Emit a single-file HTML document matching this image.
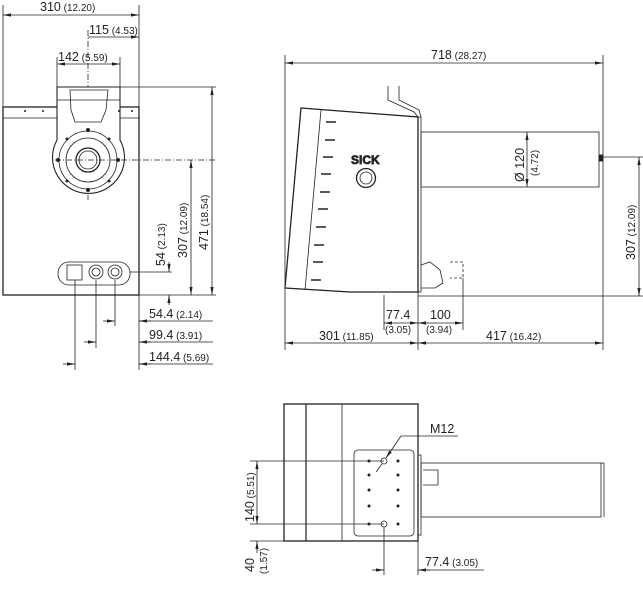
<!DOCTYPE html>
<html><head><meta charset="utf-8"><style>
html,body{margin:0;padding:0;background:#fff}
svg{display:block}
text{font-family:"Liberation Sans",sans-serif;fill:#222}
.n{font-size:12.5px}.p{font-size:10px}
</style></head><body>
<svg width="643" height="600" viewBox="0 0 643 600" xmlns="http://www.w3.org/2000/svg">
<defs>
<marker id="a" viewBox="0 0 10 10" refX="10" refY="5" markerWidth="10" markerHeight="10" orient="auto-start-reverse"><path d="M0,3 L10,5 L0,7z" fill="#222"/></marker>
</defs>
<g stroke="#222" fill="none" stroke-width="0.8">
<!-- FRONT VIEW -->
<line x1="3" y1="5" x2="3" y2="107"/><line x1="139" y1="5" x2="139" y2="370"/>
<line x1="3" y1="15" x2="139" y2="15" marker-start="url(#a)" marker-end="url(#a)"/>
<line x1="88" y1="30" x2="88" y2="200" stroke-dasharray="6,2,1,2"/>
<line x1="88" y1="37" x2="139" y2="37" marker-end="url(#a)"/>
<line x1="57" y1="57" x2="57" y2="87"/><line x1="120" y1="57" x2="120" y2="87"/>
<line x1="57" y1="64" x2="120" y2="64" marker-start="url(#a)" marker-end="url(#a)"/>
<rect x="3" y="107" width="136" height="188" stroke-width="1.3"/>
<line x1="3" y1="118" x2="139" y2="118"/>
<path d="M57,87 L120,87 L120,140 A36,36 0 1 1 57,140 Z" fill="#fff" stroke-width="1.1"/>
<path d="M70,90 L108,90 L106,110 L101,122 L75,122 L71,110 Z"/>
<line x1="57" y1="100" x2="120" y2="100"/>
<circle cx="88" cy="160" r="29"/><circle cx="88" cy="160" r="22"/><circle cx="88" cy="160" r="12" stroke-width="1.3"/><circle cx="88" cy="160" r="9"/>
<line x1="55" y1="160" x2="215" y2="160" stroke-dasharray="6,2,1,2"/>
<line x1="120" y1="87" x2="216" y2="87"/>
<line x1="212" y1="87" x2="212" y2="295" marker-start="url(#a)" marker-end="url(#a)"/>
<line x1="191" y1="160" x2="191" y2="295" marker-start="url(#a)" marker-end="url(#a)"/>
<line x1="139" y1="295" x2="216" y2="295"/>
<rect x="58" y="262" width="72" height="23" rx="11"/>
<rect x="67" y="265" width="15" height="15"/><circle cx="96" cy="272" r="7"/><circle cx="115" cy="272" r="7"/>
<circle cx="96" cy="272" r="4"/><circle cx="115" cy="272" r="4"/>
<line x1="130" y1="272" x2="172" y2="272"/>
<line x1="169" y1="262" x2="169" y2="272" marker-end="url(#a)"/>
<line x1="169" y1="305" x2="169" y2="295" marker-end="url(#a)"/>
<line x1="75" y1="280" x2="75" y2="370"/><line x1="96" y1="280" x2="96" y2="348"/><line x1="115" y1="280" x2="115" y2="326"/>
<line x1="103" y1="321" x2="115" y2="321" marker-end="url(#a)"/><line x1="151" y1="321" x2="139" y2="321" marker-end="url(#a)"/><line x1="139" y1="321" x2="213" y2="321"/>
<line x1="84" y1="342" x2="96" y2="342" marker-end="url(#a)"/><line x1="151" y1="342" x2="139" y2="342" marker-end="url(#a)"/><line x1="139" y1="342" x2="213" y2="342"/>
<line x1="63" y1="364" x2="75" y2="364" marker-end="url(#a)"/><line x1="151" y1="364" x2="139" y2="364" marker-end="url(#a)"/><line x1="139" y1="364" x2="213" y2="364"/>
<!-- SIDE VIEW -->
<line x1="285" y1="55" x2="285" y2="350"/><line x1="603" y1="55" x2="603" y2="350"/>
<line x1="285" y1="63" x2="603" y2="63" marker-start="url(#a)" marker-end="url(#a)"/>
<path d="M301,108 L418,117 L418,292 L350,292 L285,288 Z" stroke-width="1.3"/>
<line x1="321" y1="110" x2="305" y2="290"/>
<path d="M388,86 L388,100 L414,112 L418,117 M399,86 L399,100 L419,110 L421,117"/>
<rect x="418" y="117" width="3" height="175"/>
<rect x="421" y="132" width="178" height="55"/>
<rect x="599" y="155" width="4" height="6" fill="#222"/>
<line x1="527" y1="132" x2="527" y2="187" marker-start="url(#a)" marker-end="url(#a)"/>
<circle cx="366" cy="178" r="9.5" stroke-width="1.3"/><circle cx="366" cy="178" r="6"/>
<line x1="603" y1="157" x2="643" y2="157"/>
<line x1="639" y1="157" x2="639" y2="296" marker-start="url(#a)" marker-end="url(#a)"/>
<line x1="418" y1="296" x2="643" y2="296"/>
<path d="M421,265 L430,262 L440,270 L443,283 L435,288 L421,288"/>
<path d="M450,262 L463,262 L463,278 L450,278" stroke-dasharray="3,2"/>
<line x1="418" y1="292" x2="418" y2="350"/><line x1="384" y1="295" x2="384" y2="330"/><line x1="463" y1="278" x2="463" y2="330"/>
<line x1="384" y1="323" x2="418" y2="323" marker-start="url(#a)" marker-end="url(#a)"/>
<line x1="418" y1="323" x2="463" y2="323" marker-start="url(#a)" marker-end="url(#a)"/>
<line x1="285" y1="343" x2="418" y2="343" marker-start="url(#a)" marker-end="url(#a)"/>
<line x1="418" y1="343" x2="603" y2="343" marker-start="url(#a)" marker-end="url(#a)"/>
<!-- TOP VIEW -->
<rect x="284" y="404" width="134" height="137" stroke-width="1.3"/>
<line x1="306" y1="404" x2="306" y2="541" stroke-width="1.2"/><line x1="342" y1="404" x2="342" y2="541"/>
<rect x="354" y="450" width="60" height="86" rx="4"/>
<rect x="418" y="455" width="3" height="80"/>
<rect x="421" y="463" width="180" height="54"/>
<line x1="601" y1="463" x2="604" y2="463"/><line x1="604" y1="463" x2="604" y2="517"/>
<path d="M423,470 L438,470 L438,485 L423,485"/>
<circle cx="384" cy="461" r="3"/><circle cx="384" cy="524" r="3"/>
<line x1="458" y1="436" x2="401" y2="436"/><line x1="401" y1="436" x2="386" y2="458" marker-end="url(#a)"/><line x1="376" y1="472" x2="382" y2="464"/>
<line x1="250" y1="461" x2="384" y2="461"/><line x1="250" y1="524" x2="384" y2="524"/>
<line x1="250" y1="541" x2="284" y2="541"/>
<line x1="257" y1="461" x2="257" y2="524" marker-start="url(#a)" marker-end="url(#a)"/>
<line x1="257" y1="553" x2="257" y2="541" marker-end="url(#a)"/>
<line x1="384" y1="527" x2="384" y2="575"/><line x1="418" y1="541" x2="418" y2="575"/>
<line x1="372" y1="570" x2="384" y2="570" marker-end="url(#a)"/><line x1="430" y1="570" x2="418" y2="570" marker-end="url(#a)"/><line x1="418" y1="570" x2="484" y2="570"/>
</g>
<g fill="#222">
<circle cx="25" cy="111" r="1"/><circle cx="43" cy="111" r="1"/><circle cx="119" cy="111" r="1"/><circle cx="132" cy="111" r="1"/>
<circle cx="88" cy="130" r="2"/><circle cx="88" cy="190" r="2"/><circle cx="58" cy="160" r="2"/><circle cx="118" cy="160" r="2"/>
<circle cx="67" cy="139" r="1.5"/><circle cx="109" cy="139" r="1.5"/><circle cx="67" cy="181" r="1.5"/><circle cx="109" cy="181" r="1.5"/>
<circle cx="369" cy="461" r="1.5"/><circle cx="398" cy="461" r="1.5"/><circle cx="369" cy="475" r="1.5"/><circle cx="398" cy="475" r="1.5"/>
<circle cx="369" cy="490" r="1.5"/><circle cx="398" cy="490" r="1.5"/><circle cx="369" cy="506" r="1.5"/><circle cx="398" cy="506" r="1.5"/>
<circle cx="369" cy="524" r="1.5"/><circle cx="398" cy="524" r="1.5"/>
</g>
<g stroke="#222" stroke-width="1.5">
<line x1="326" y1="122" x2="336" y2="122"/><line x1="325" y1="140" x2="335" y2="140"/><line x1="323" y1="157" x2="333" y2="157"/><line x1="321" y1="174" x2="331" y2="174"/><line x1="320" y1="192" x2="330" y2="192"/><line x1="318" y1="209" x2="328" y2="209"/><line x1="316" y1="227" x2="326" y2="227"/><line x1="314" y1="245" x2="324" y2="245"/><line x1="313" y1="262" x2="323" y2="262"/><line x1="311" y1="280" x2="321" y2="280"/>
</g>
<text x="351" y="164" font-size="12" font-weight="bold" fill="#fff" stroke="#222" stroke-width="0.7" font-family="Liberation Sans">SICK</text>
<text x="40" y="11"><tspan class="n">310</tspan><tspan class="p"> (12.20)</tspan></text>
<text x="89" y="34"><tspan class="n">115</tspan><tspan class="p"> (4.53)</tspan></text>
<text x="58" y="61"><tspan class="n">142</tspan><tspan class="p"> (5.59)</tspan></text>
<text transform="translate(208,250) rotate(-90)"><tspan class="n">471</tspan><tspan class="p"> (18.54)</tspan></text>
<text transform="translate(187,258) rotate(-90)"><tspan class="n">307</tspan><tspan class="p"> (12.09)</tspan></text>
<text transform="translate(165,266) rotate(-90)"><tspan class="n">54</tspan><tspan class="p"> (2.13)</tspan></text>
<text x="149" y="318"><tspan class="n">54.4</tspan><tspan class="p"> (2.14)</tspan></text>
<text x="149" y="339"><tspan class="n">99.4</tspan><tspan class="p"> (3.91)</tspan></text>
<text x="149" y="361"><tspan class="n">144.4</tspan><tspan class="p"> (5.69)</tspan></text>
<text x="431" y="59"><tspan class="n">718</tspan><tspan class="p"> (28.27)</tspan></text>
<text transform="translate(524,182) rotate(-90)" class="n">Ø 120</text>
<text transform="translate(538,176) rotate(-90)" class="p">(4.72)</text>
<text transform="translate(635,260) rotate(-90)"><tspan class="n">307</tspan><tspan class="p"> (12.09)</tspan></text>
<text x="386" y="319" class="n">77.4</text><text x="385" y="333" class="p">(3.05)</text>
<text x="430" y="319" class="n">100</text><text x="426" y="333" class="p">(3.94)</text>
<text x="319" y="340"><tspan class="n">301</tspan><tspan class="p"> (11.85)</tspan></text>
<text x="486" y="340"><tspan class="n">417</tspan><tspan class="p"> (16.42)</tspan></text>
<text x="430" y="433" class="n">M12</text>
<text transform="translate(254,522) rotate(-90)"><tspan class="n">140</tspan><tspan class="p"> (5.51)</tspan></text>
<text transform="translate(254,572) rotate(-90)" class="n">40</text>
<text transform="translate(267,574) rotate(-90)" class="p">(1.57)</text>
<text x="425" y="566"><tspan class="n">77.4</tspan><tspan class="p"> (3.05)</tspan></text>
</svg>
</body></html>
